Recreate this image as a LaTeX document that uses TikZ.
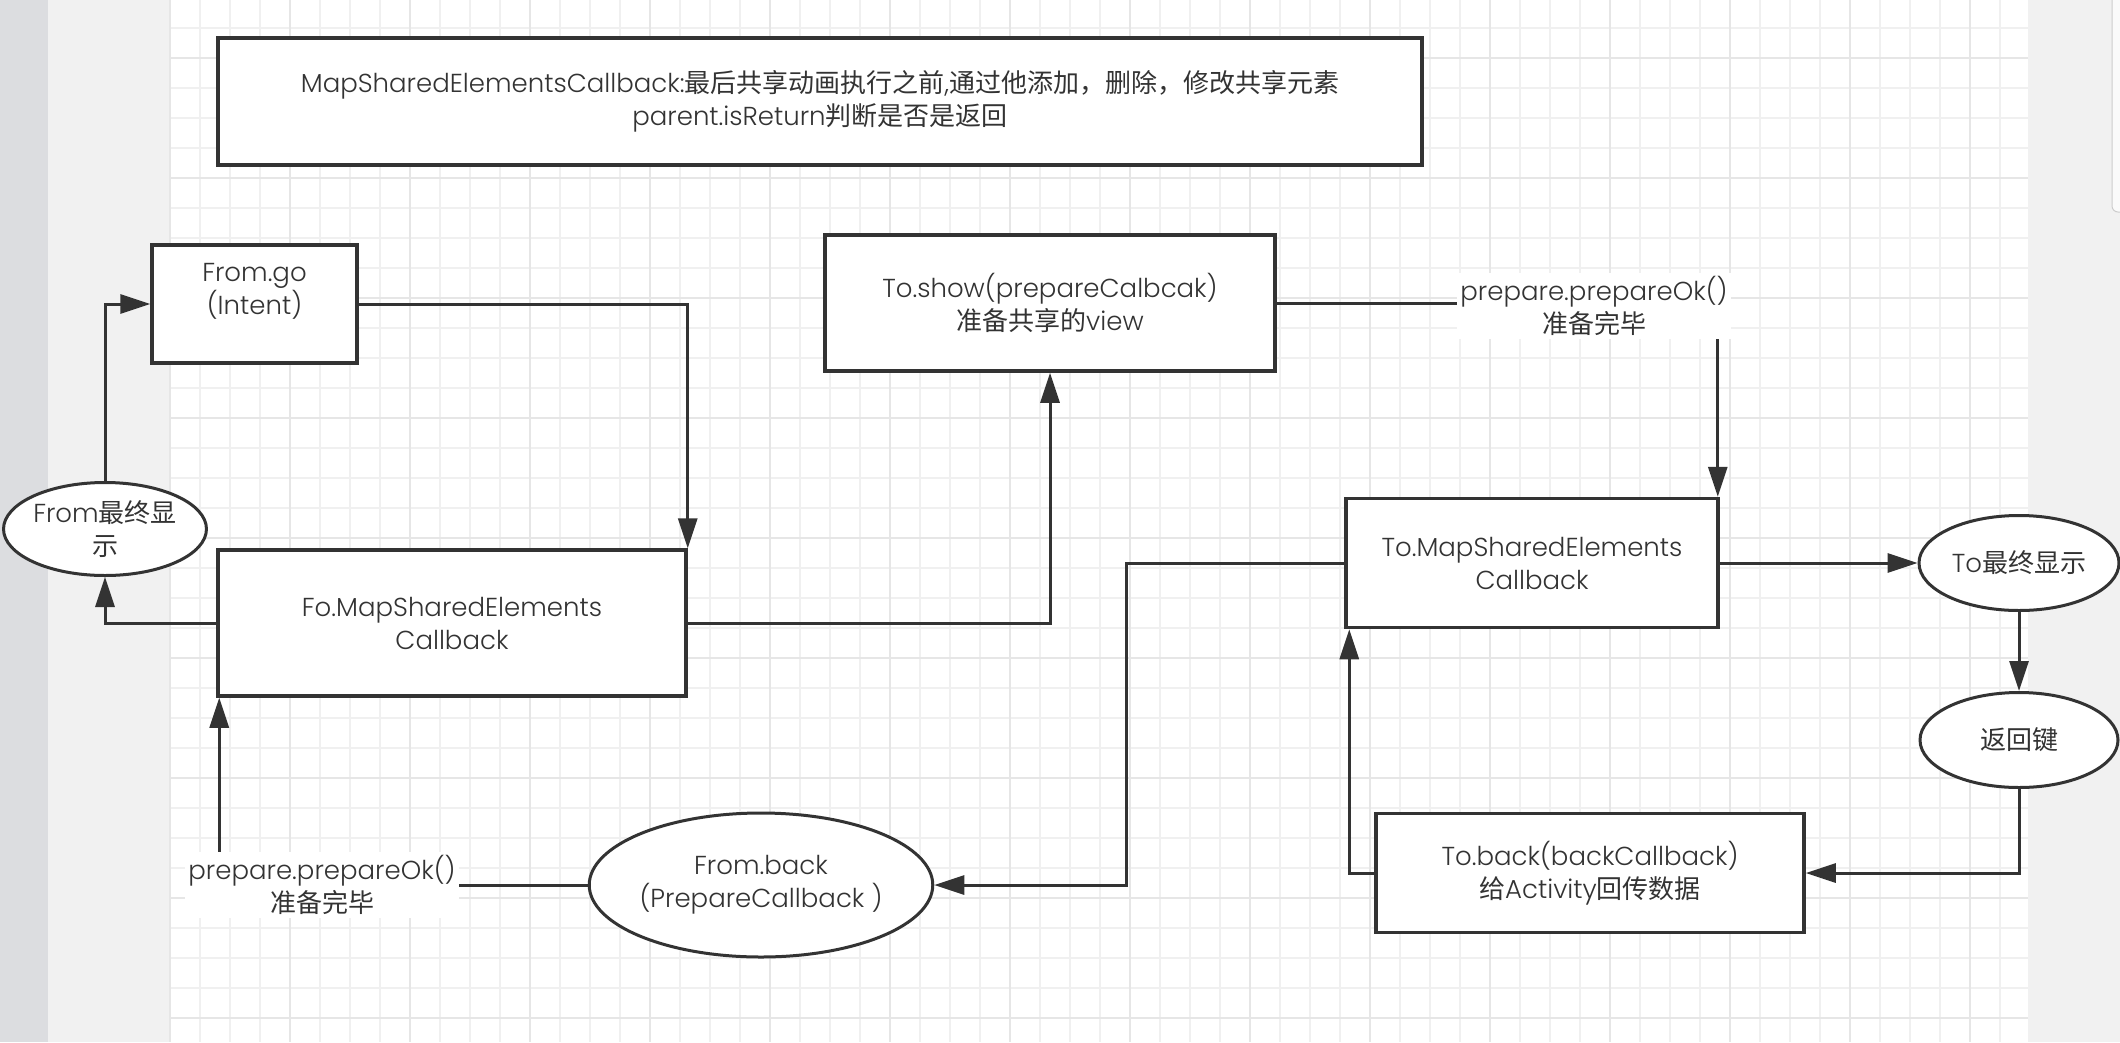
\documentclass[tikz,border=0pt]{standalone}
\usepackage{fontspec}
\setmainfont{Poppins}[UprightFont={* Light}]
\newfontfamily\cjk{Noto Sans CJK SC}
\usetikzlibrary{arrows.meta,shapes.geometric,calc}
\definecolor{ink}{HTML}{333333}
\definecolor{gridminor}{HTML}{F0F0F0}
\definecolor{gridmajor}{HTML}{E6E6E6}
\definecolor{sidegray}{HTML}{F1F1F1}
\definecolor{bargray}{HTML}{DCDDE0}
\newcommand\dgfont{\fontsize{26}{33}\selectfont}
\tikzset{
  boxst/.style={draw=ink, line width=3.5pt, fill=white, text=ink, align=center, inner sep=0pt, font=\dgfont},
  ellst/.style={ellipse, draw=ink, line width=3pt, fill=white, text=ink, align=center, inner sep=0pt, font=\dgfont},
  lblst/.style={fill=white, text=ink, align=center, inner sep=3pt, font=\dgfont},
  conn/.style={draw=ink, line width=3pt},
  arr/.style={conn, -{Triangle[length=30pt,width=19pt]}}
}
\begin{document}
\begin{tikzpicture}[x=1pt,y=-1pt]
\useasboundingbox (0,0) rectangle (2120,1042);
% background
\fill[white] (0,0) rectangle (2120,1042);
\fill[bargray] (0,0) rectangle (48,1042);
\fill[sidegray] (48,0) rectangle (169,1042);
\fill[sidegray] (2028,0) rectangle (2120,1042);
\draw[draw=gridminor, line width=1.5pt] \foreach \gx in {200,230,...,2020} {(\gx,0) -- (\gx,1042)};
\draw[draw=gridminor, line width=1.5pt] \foreach \gy in {28,58,...,1042} {(169,\gy) -- (2028,\gy)};
\draw[draw=gridmajor, line width=2.5pt] \foreach \gx in {170,290,...,2020} {(\gx,0) -- (\gx,1042)};
\draw[draw=gridmajor, line width=2.5pt] \foreach \gy in {58,178,...,1042} {(169,\gy) -- (2028,\gy)};
\draw[draw=gray!40, fill=white!96!gray, rounded corners=6pt, line width=1pt] (2112,-10) rectangle (2130,212);

% nodes
\node[boxst, minimum width=1204pt, minimum height=127pt] (top) at (820,101.5)
  {MapSharedElementsCallback:{\cjk 最后共享动画执行之前},{\cjk 通过他添加，删除，修改共享元素}\\parent.isReturn{\cjk 判断是否是返回}};
\node[boxst, minimum width=205pt, minimum height=118pt] (fromgo) at (254.5,304)
  {From.go\\(Intent)\\[-12pt]\strut};
\node[ellst, minimum width=200pt, minimum height=93pt] (fromfinal) at (105,529)
  {From{\cjk 最终显}\\{\cjk 示}};
\node[boxst, minimum width=468pt, minimum height=146pt] (fo) at (452,623)
  {Fo.MapSharedElements\\Callback};
\node[boxst, minimum width=450pt, minimum height=136pt] (toshow) at (1050,303)
  {To.show(prepareCalbcak)\\{\cjk 准备共享的}view};
\node[boxst, minimum width=372pt, minimum height=129pt] (tomap) at (1532,563)
  {To.MapSharedElements\\Callback};
\node[ellst, minimum width=200pt, minimum height=95pt] (tofinal) at (2019,563)
  {To{\cjk 最终显示}};
\node[ellst, minimum width=198pt, minimum height=95pt] (back) at (2019,740)
  {{\cjk 返回键}};
\node[boxst, minimum width=428pt, minimum height=119pt] (toback) at (1590,873)
  {To.back(backCallback)\\{\cjk 给}Activity{\cjk 回传数据}};
\node[ellst, minimum width=288pt, minimum height=144pt] (fromback) at (761,885)
  {From.back\\(PrepareCallback )};
\coordinate (bend) at (1126,885);

% connectors
\draw[arr] (fromfinal.north) |- (fromgo.west);
\draw[arr] (fromgo.east) -| (fo.north east);
\draw[arr] (fo.west) -| (fromfinal.south);
\draw[arr] (fo.east) -| (toshow.south);
\draw[arr] (toshow.east) -| ([xshift=-2pt]tomap.north east);
\draw[arr] (tomap.east) -- (tomap.east -| tofinal.west);
\draw[arr] (tofinal.south) -- (back.north);
\draw[arr] (back.south) |- (toback.east);
\draw[arr] (toback.west) -| ([xshift=5pt]tomap.south west);
\draw[arr] (tomap.west) -| (bend) -- (fromback.east);
\draw[arr] (fromback.west) -| ([xshift=3pt]fo.south west);

% connector labels
\node[lblst, minimum width=268pt] (okright) at (1594,306)
  {prepare.prepareOk()\\{\cjk 准备完毕}};
\node[lblst, minimum width=268pt] (okleft) at (322,885)
  {prepare.prepareOk()\\{\cjk 准备完毕}};
\end{tikzpicture}
\end{document}
